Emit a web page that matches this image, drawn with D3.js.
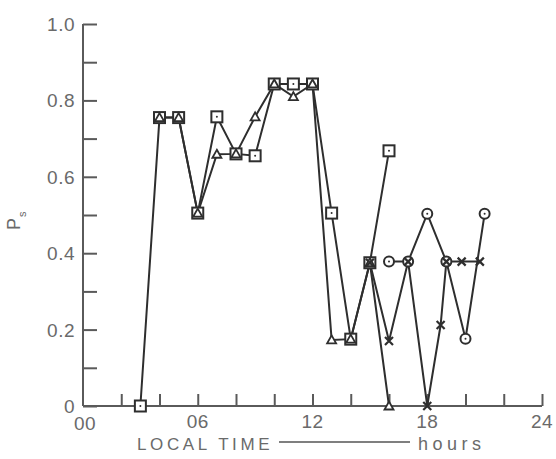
<!DOCTYPE html>
<html><head><meta charset="utf-8">
<script src="https://cdn.jsdelivr.net/npm/d3@7"></script>
<style>
html,body{margin:0;padding:0;background:#fff;}
text{font-family:"Liberation Sans","DejaVu Sans",sans-serif;fill:#6a6a6a;}
</style></head>
<body><svg id="c" width="556" height="459"></svg>
<script>
// Hours of local time and P_s values
const squareHours  = [3, 4, 5, 6, 7, 8, 9, 10, 11, 12, 13, 14, 15, 16];
const squareValues = [0, 0.755, 0.755, 0.505, 0.757, 0.66, 0.655, 0.843, 0.843, 0.843, 0.505, 0.175, 0.375, 0.668];
const triangleHours  = [4, 5, 6, 7, 8, 9, 10, 11, 12, 13, 14, 15, 16];
const triangleValues = [0.755, 0.755, 0.505, 0.659, 0.66, 0.757, 0.843, 0.81, 0.843, 0.173, 0.175, 0.375, 0];
const circleHours  = [16, 17, 18, 19, 20, 21];
const circleValues = [0.378, 0.378, 0.503, 0.378, 0.176, 0.503];
const crossHours  = [15, 16, 17, 18, 18.7, 19, 19.8, 20.75];
const crossValues = [0.375, 0.17, 0.378, 0, 0.212, 0.378, 0.378, 0.378];
const yTickLabels = ["0", "0.2", "0.4", "0.6", "0.8", "1.0"];
const xTickLabels = ["00", "06", "12", "18", "24"];

const svg = d3.select("#c");
const x = d3.scaleLinear().domain([0, 24]).range([83, 542]);
const y = d3.scaleLinear().domain([0, 1]).range([406, 24]);
const axisColor = "#5a5a5a";
const ink = "#2e2e2e";

// axes
const yAxis = d3.axisRight(y).tickValues(d3.range(0, 1.0001, 0.1)).tickSize(14).tickFormat("");
const gy = svg.append("g").attr("transform", `translate(${x(0)},0)`).call(yAxis);
gy.select(".domain").attr("d", `M0,${y(1)}V${y(0)}`);
gy.selectAll("path,line").attr("stroke", axisColor).attr("stroke-width", 2);

const xAxis = d3.axisTop(x).tickValues(d3.range(2, 24.001, 2)).tickSize(12).tickFormat("");
const gx = svg.append("g").attr("transform", `translate(0,${y(0)})`).call(xAxis);
gx.select(".domain").attr("d", `M${x(0)},0H${x(24)}`);
gx.selectAll("path,line").attr("stroke", axisColor).attr("stroke-width", 2);

// tick labels
svg.append("g").selectAll("text").data(yTickLabels).join("text")
  .attr("x", 75).attr("y", (d, i) => y(i * 0.2) + 7)
  .attr("text-anchor", "end").attr("font-size", 19).attr("letter-spacing", 0.5).text(d => d);
svg.append("g").selectAll("text").data(xTickLabels).join("text")
  .attr("x", (d, i) => x(i * 6) + (i === 0 ? 2 : 0)).attr("y", (d, i) => i === 0 ? 430 : 428)
  .attr("text-anchor", "middle").attr("font-size", 19).attr("letter-spacing", 0.5).text(d => d);

// axis titles
svg.append("text").attr("x", 137).attr("y", 450).attr("font-size", 17)
  .attr("letter-spacing", 3.6).text("LOCAL TIME");
svg.append("line").attr("x1", 279).attr("x2", 410).attr("y1", 442).attr("y2", 442)
  .attr("stroke", "#555").attr("stroke-width", 1.5);
svg.append("text").attr("x", 418).attr("y", 450).attr("font-size", 18)
  .attr("letter-spacing", 4.5).text("hours");
const yl = svg.append("text").attr("transform", "translate(20,230) rotate(-90)").attr("font-size", 18);
yl.append("tspan").text("P");
yl.append("tspan").attr("font-size", 11).attr("dx", 1).attr("dy", 6).text("s");

// lines
const line = d3.line().x(d => x(d[0])).y(d => y(d[1]));
const series = [
  {h: squareHours, v: squareValues},
  {h: triangleHours, v: triangleValues},
  {h: circleHours, v: circleValues},
  {h: crossHours, v: crossValues}
];
series.forEach(s => {
  svg.append("path").datum(s.h.map((h, i) => [h, s.v[i]]))
    .attr("d", line).attr("fill", "none").attr("stroke", ink).attr("stroke-width", 2);
});

// markers
const sq = squareHours.map((h, i) => [h, squareValues[i]]);
svg.append("g").selectAll("rect").data(sq).join("rect")
  .attr("x", d => x(d[0]) - 5.5).attr("y", d => y(d[1]) - 5.5).attr("width", 11).attr("height", 11)
  .attr("fill", "#fff").attr("stroke", ink).attr("stroke-width", 2);
svg.append("g").selectAll("circle").data(sq).join("circle")
  .attr("cx", d => x(d[0])).attr("cy", d => y(d[1])).attr("r", 1).attr("fill", ink);

const tr = triangleHours.map((h, i) => [h, triangleValues[i]]);
svg.append("g").selectAll("path").data(tr).join("path")
  .attr("d", d => { const cx = x(d[0]), cy = y(d[1]); return `M${cx},${cy-4.5}L${cx+4.5},${cy+3.5}L${cx-4.5},${cy+3.5}Z`; })
  .attr("fill", "#fff").attr("stroke", ink).attr("stroke-width", 1.8);

const ci = circleHours.map((h, i) => [h, circleValues[i]]);
svg.append("g").selectAll("circle").data(ci).join("circle")
  .attr("cx", d => x(d[0])).attr("cy", d => y(d[1])).attr("r", 5)
  .attr("fill", "#fff").attr("stroke", ink).attr("stroke-width", 2);
svg.append("g").selectAll("circle").data(ci).join("circle")
  .attr("cx", d => x(d[0])).attr("cy", d => y(d[1])).attr("r", 1).attr("fill", ink);

const cr = crossHours.map((h, i) => [h, crossValues[i]]);
svg.append("g").selectAll("path").data(cr).join("path")
  .attr("d", d => { const cx = x(d[0]), cy = y(d[1]), r = 4; return `M${cx-r},${cy-r}L${cx+r},${cy+r}M${cx+r},${cy-r}L${cx-r},${cy+r}`; })
  .attr("fill", "none").attr("stroke", ink).attr("stroke-width", 2.2);
</script></body></html>
